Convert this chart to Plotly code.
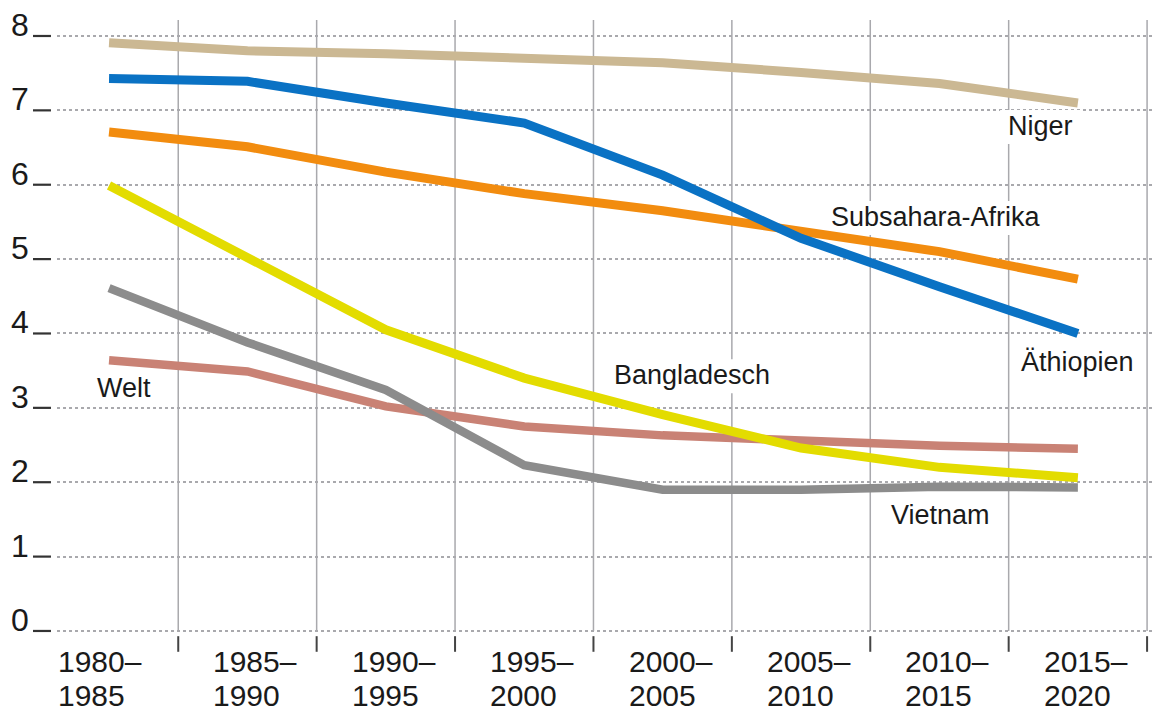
import plotly.graph_objects as go

periods_top = ["1980–", "1985–", "1990–", "1995–", "2000–", "2005–", "2010–", "2015–"]
periods_bottom = ["1985", "1990", "1995", "2000", "2005", "2010", "2015", "2020"]
y_ticks = [0, 1, 2, 3, 4, 5, 6, 7, 8]

niger = [7.91, 7.80, 7.76, 7.70, 7.64, 7.51, 7.36, 7.10]
aethiopien = [7.43, 7.39, 7.10, 6.83, 6.13, 5.28, 4.63, 4.00]
subsahara = [6.71, 6.51, 6.17, 5.88, 5.65, 5.38, 5.10, 4.73]
bangladesch = [5.99, 5.03, 4.05, 3.40, 2.91, 2.46, 2.20, 2.06]
vietnam = [4.61, 3.88, 3.24, 2.23, 1.90, 1.90, 1.94, 1.93]
welt = [3.64, 3.49, 3.02, 2.75, 2.63, 2.55, 2.49, 2.45]

series = [
    ("Welt", welt, "#c98275", 8.5),
    ("Vietnam", vietnam, "#8c8c8c", 8.5),
    ("Bangladesch", bangladesch, "#e3dc00", 9),
    ("Subsahara-Afrika", subsahara, "#f28c0f", 9),
    ("Äthiopien", aethiopien, "#0a72c4", 9),
    ("Niger", niger, "#cbb893", 9),
]

# label positions (data coordinates) and approximate text widths in px
labels = [
    ("Niger", 6.727, 6.79, 64),
    ("Subsahara-Afrika", 5.975, 5.565, 207),
    ("Äthiopien", 7.0, 3.615, 110),
    ("Bangladesch", 4.21, 3.44, 151),
    ("Welt", 0.108, 3.27, 52),
    ("Vietnam", 6.01, 1.56, 97),
]

FONT = "Liberation Sans, Arial, Helvetica, sans-serif"
TXT = "#1a1a1a"

xs = list(range(len(periods_top)))
fig = go.Figure()
for name, vals, col, w in series:
    fig.add_trace(go.Scatter(x=xs, y=vals, mode="lines", name=name,
                             line=dict(color=col, width=w), hoverinfo="skip"))

shapes = []
# vertical separators and small ticks below the axis
for i in range(len(xs)):
    xb = i + 0.5
    shapes.append(dict(type="line", xref="x", yref="y", x0=xb, x1=xb, y0=0, y1=8.22,
                       line=dict(color="#a9a9ad", width=1.5), layer="below"))
    shapes.append(dict(type="line", xref="x", yref="y", x0=xb, x1=xb, y0=-0.07, y1=-0.28,
                       line=dict(color="#444444", width=2)))
# y tick dashes
for v in y_ticks:
    shapes.append(dict(type="line", xref="paper", yref="y", x0=-0.0219, x1=-0.0055, y0=v, y1=v,
                       line=dict(color="#333333", width=2.2)))
# white masks behind the series labels (above grid, below traces)
for t, x, y, w in labels:
    shapes.append(dict(type="rect", xref="x", yref="y", xsizemode="pixel", ysizemode="pixel",
                       xanchor=x, yanchor=y, x0=-w / 2 - 8, x1=w / 2 + 8, y0=-18, y1=16,
                       fillcolor="white", line=dict(width=0), layer="between"))

annotations = []
for v in y_ticks:
    annotations.append(dict(text=str(v), xref="paper", yref="y", x=-0.0337, y=v,
                            xanchor="center", yanchor="bottom", yshift=-9, showarrow=False,
                            font=dict(family=FONT, size=32, color=TXT)))
for i, (t, b) in enumerate(zip(periods_top, periods_bottom)):
    shift = -53 if i == 0 else -36
    annotations.append(dict(text=t, xref="x", yref="paper", x=i, y=-0.0063, xanchor="left",
                            yanchor="middle", xshift=shift, showarrow=False,
                            font=dict(family=FONT, size=30, color=TXT)))
    annotations.append(dict(text=b, xref="x", yref="paper", x=i, y=-0.0612, xanchor="left",
                            yanchor="middle", xshift=shift, showarrow=False,
                            font=dict(family=FONT, size=30, color=TXT)))
for t, x, y, w in labels:
    annotations.append(dict(text=t, xref="x", yref="y", x=x, y=y, xanchor="center",
                            yanchor="middle", showarrow=False,
                            font=dict(family=FONT, size=27, color=TXT)))

fig.update_layout(
    width=1154, height=717,
    margin=dict(l=57, r=0, t=20, b=60),
    paper_bgcolor="white", plot_bgcolor="white",
    showlegend=False,
    xaxis=dict(range=[-0.376, 7.55], showgrid=False, zeroline=False, showticklabels=False,
               ticks="", showline=False, fixedrange=True),
    yaxis=dict(range=[-0.35, 8.215], tickvals=y_ticks, showticklabels=False, ticks="",
               showgrid=True, gridcolor="#a9a9ad", gridwidth=1.5, griddash="dot",
               zeroline=False, showline=False, fixedrange=True),
    shapes=shapes,
    annotations=annotations,
)

fig.write_html("out.html", config={"displayModeBar": False},
               post_script="document.body.style.margin='0';")
